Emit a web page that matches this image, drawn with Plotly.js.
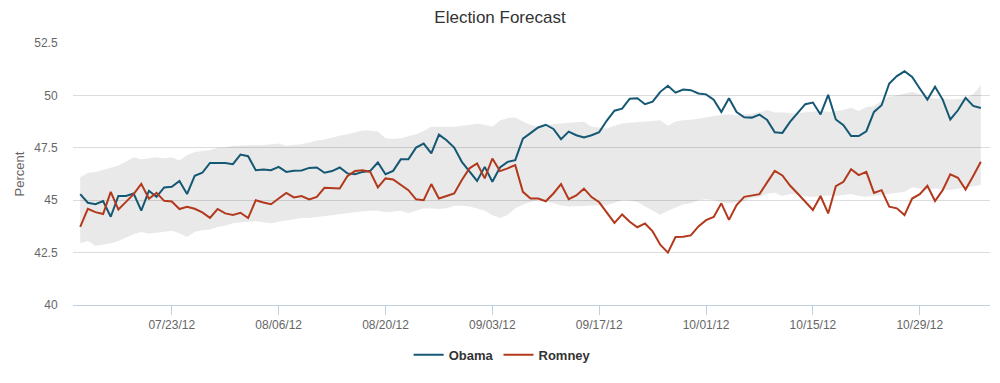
<!DOCTYPE html>
<html><head><meta charset="utf-8">
<script src="https://cdn.plot.ly/plotly-3.0.1.min.js"></script>
<style>html,body{margin:0;padding:0;background:#fff;} #chart{width:1000px;height:383px;}</style>
</head><body><div id="chart"></div>
<script>
// Daily forecast, first day 2012-07-11 (119 days)
const startDate = '2012-07-11';

const obama = [
45.29,44.88,44.81,44.96,44.21,45.20,45.20,45.32,44.50,45.45,
45.16,45.61,45.64,45.92,45.29,46.16,46.31,46.78,46.78,46.77,
46.72,47.18,47.10,46.43,46.46,46.43,46.59,46.35,46.40,46.42,
46.54,46.56,46.31,46.39,46.56,46.28,46.24,46.35,46.40,46.80,
46.24,46.40,46.95,46.95,47.51,47.70,47.23,48.13,47.86,47.51,
46.83,46.35,45.92,46.59,45.88,46.56,46.83,46.91,47.94,48.20,
48.47,48.60,48.40,47.91,48.27,48.10,47.99,48.10,48.25,48.80,
49.27,49.37,49.84,49.86,49.58,49.70,50.17,50.46,50.13,50.28,
50.25,50.09,50.05,49.79,49.21,49.86,49.21,48.96,48.94,49.08,
48.83,48.24,48.21,48.74,49.17,49.58,49.66,49.09,50.03,48.85,
48.58,48.06,48.06,48.29,49.21,49.53,50.57,50.92,51.15,50.88,
50.33,49.80,50.41,49.80,48.85,49.29,49.88,49.50,49.40];

const romney = [
43.73,44.59,44.43,44.34,45.40,44.56,44.92,45.29,45.78,45.07,
45.35,44.97,44.94,44.58,44.69,44.59,44.42,44.16,44.58,44.37,
44.29,44.40,44.15,45.00,44.89,44.81,45.08,45.35,45.13,45.20,
45.04,45.16,45.59,45.58,45.56,46.15,46.39,46.43,46.35,45.61,
46.04,45.99,45.72,45.48,45.04,45.00,45.77,45.08,45.20,45.32,
45.96,46.52,46.75,46.04,46.99,46.39,46.52,46.67,45.40,45.08,
45.08,44.95,45.32,45.77,45.05,45.23,45.55,45.15,44.90,44.38,
43.92,44.32,43.97,43.71,43.89,43.51,42.88,42.50,43.24,43.26,
43.32,43.75,44.05,44.20,44.85,44.06,44.77,45.16,45.24,45.29,
45.85,46.40,46.18,45.70,45.32,44.92,44.53,45.20,44.37,45.67,
45.88,46.48,46.20,46.35,45.35,45.48,44.69,44.61,44.29,45.08,
45.29,45.69,44.96,45.48,46.23,46.07,45.51,46.16,46.83];

const bandUpper = [
46.10,46.30,46.35,46.45,46.55,46.65,46.85,47.05,46.95,47.00,
47.05,47.00,47.05,46.90,47.15,47.30,47.35,47.40,47.50,47.52,
47.60,47.62,47.62,47.63,47.63,47.65,47.70,47.60,47.62,47.67,
47.75,47.85,47.90,48.00,48.08,48.15,48.25,48.32,48.33,48.28,
47.95,47.92,47.95,48.05,48.15,48.30,48.50,48.50,48.50,48.50,
48.55,48.60,48.65,48.60,48.50,48.80,48.92,48.95,48.75,48.60,
48.50,48.60,48.62,48.66,48.70,48.72,48.74,48.50,48.45,48.42,
48.55,48.66,48.70,48.72,48.74,48.78,48.82,48.55,48.75,48.82,
48.84,48.88,48.95,49.02,49.06,49.10,49.05,49.08,49.12,49.20,
49.30,49.18,49.20,49.15,49.15,49.20,49.22,49.28,49.22,49.25,
49.30,49.42,49.25,49.45,49.48,49.75,49.95,50.00,50.08,50.17,
50.05,49.90,49.85,49.85,49.80,49.82,49.85,50.05,50.50];

const bandLower = [
42.95,43.05,42.82,42.88,42.95,43.05,43.20,43.38,43.48,43.40,
43.45,43.50,43.54,43.42,43.25,43.48,43.57,43.60,43.72,43.78,
43.90,43.95,43.97,44.00,43.95,43.90,43.97,44.02,44.08,44.15,
44.15,44.20,44.24,44.28,44.32,44.38,44.43,44.46,44.50,44.50,
44.42,44.45,44.50,44.38,44.50,44.62,44.60,44.58,44.62,44.72,
44.74,44.70,44.60,44.50,44.28,44.15,44.30,44.60,44.78,44.92,
45.00,44.95,44.85,44.75,44.70,44.70,44.72,44.75,44.75,44.76,
44.88,45.00,44.98,44.92,44.70,44.50,44.30,44.50,44.65,44.80,
44.85,45.00,45.05,45.00,44.90,44.85,44.92,44.95,45.10,45.15,
45.30,45.35,45.20,45.30,45.25,45.18,45.15,45.19,45.22,45.20,
45.25,45.29,45.20,45.16,45.20,45.25,45.32,45.35,45.40,45.62,
45.55,45.50,45.56,45.52,45.48,45.55,45.60,45.67,45.72];

const tickDates = ['2012-07-23','2012-08-06','2012-08-20','2012-09-03','2012-09-17','2012-10-01','2012-10-15','2012-10-29'];
const tickLabels = ['07/23/12','08/06/12','08/20/12','09/03/12','09/17/12','10/01/12','10/15/12','10/29/12'];
const yTicks = [40, 42.5, 45, 47.5, 50, 52.5];
const yTickLabels = ['40','42.5','45','47.5','50','52.5'];

function dayList(start, n) {
  const out = [];
  const t0 = Date.parse(start + 'T00:00:00Z');
  for (let i = 0; i < n; i++) {
    out.push(new Date(t0 + i * 86400000).toISOString().slice(0, 10));
  }
  return out;
}
const dates = dayList(startDate, obama.length);

const FONT = 'Liberation Sans, Arial, Helvetica, sans-serif';

const traces = [
  {x: dates, y: bandLower, type: 'scatter', mode: 'lines', line: {width: 0, color: 'rgba(0,0,0,0)'},
   showlegend: false, hoverinfo: 'skip'},
  {x: dates, y: bandUpper, type: 'scatter', mode: 'lines', line: {width: 0, color: 'rgba(0,0,0,0)'},
   fill: 'tonexty', fillcolor: 'rgba(0,0,0,0.085)', showlegend: false, hoverinfo: 'skip'},
  {x: dates, y: obama, type: 'scatter', mode: 'lines', name: 'Obama',
   line: {color: '#155873', width: 2}},
  {x: dates, y: romney, type: 'scatter', mode: 'lines', name: 'Romney',
   line: {color: '#b3391d', width: 2}}
];

const layout = {
  width: 1000, height: 383,
  margin: {l: 73, r: 10, t: 43, b: 78},
  paper_bgcolor: '#ffffff', plot_bgcolor: '#ffffff',
  font: {family: FONT, color: '#666'},
  title: {text: 'Election Forecast', font: {family: FONT, size: 17, color: '#333'},
          x: 0.5, xref: 'container', xanchor: 'center', y: 0.956, yref: 'container', yanchor: 'middle'},
  xaxis: {
    type: 'date', range: ['2012-07-10 01:20', '2012-11-07 04:50'],
    tickvals: tickDates, ticktext: tickLabels,
    ticks: 'outside', ticklen: 9, tickcolor: '#C0D0E0', tickwidth: 1,
    showgrid: false, zeroline: false,
    showline: true, linecolor: '#C0D0E0', linewidth: 1,
    tickfont: {family: FONT, size: 12, color: '#666'}
  },
  yaxis: {
    range: [40, 52.5], tickvals: yTicks, ticktext: yTickLabels,
    showgrid: true, gridcolor: '#dcdcdc', gridwidth: 1, zeroline: false,
    ticks: 'outside', ticklen: 12, tickcolor: 'rgba(0,0,0,0)',
    tickfont: {family: FONT, size: 12, color: '#666'},
    title: {text: 'Percent', font: {family: FONT, size: 13, color: '#666'}, standoff: 6}
  },
  showlegend: true,
  legend: {orientation: 'h', traceorder: 'normal', x: 0.468, xanchor: 'center', y: -0.19, yanchor: 'middle',
           font: {family: FONT, size: 13, color: '#333', weight: 'bold'},
           bgcolor: 'rgba(0,0,0,0)', itemwidth: 30}
};

Plotly.newPlot('chart', traces, layout, {displayModeBar: false, staticPlot: true});
</script>
</body></html>
